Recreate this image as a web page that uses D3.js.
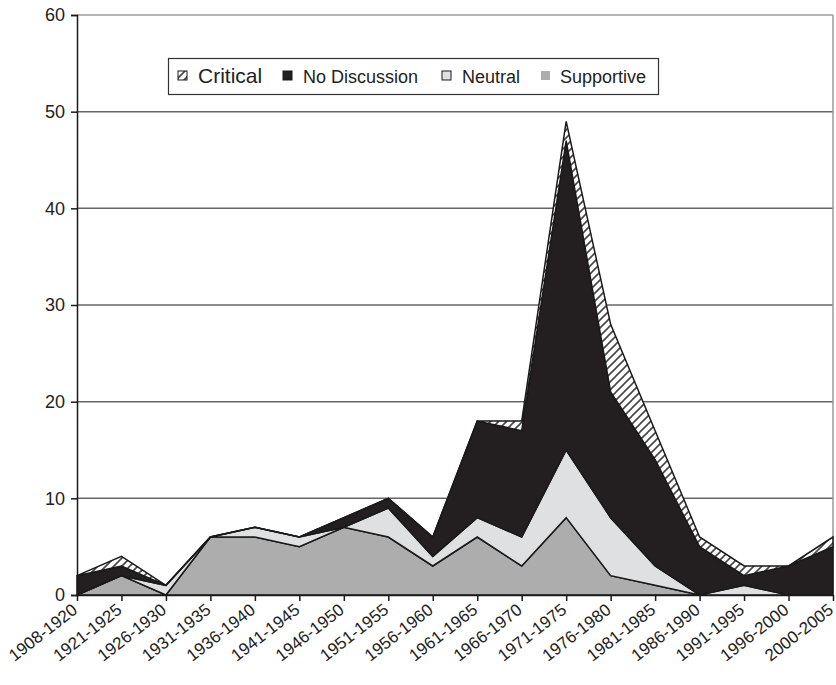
<!DOCTYPE html>
<html>
<head>
<meta charset="utf-8">
<script src="https://cdn.jsdelivr.net/npm/d3@7"></script>
<style>
  html, body { margin: 0; padding: 0; background: #fff; }
  svg { display: block; font-family: "Liberation Sans", Arial, sans-serif; }
</style>
</head>
<body>
<svg id="chart" width="836" height="685"></svg>
<script>
// Periods on the category axis
const periods = ["1908-1920", "1921-1925", "1926-1930", "1931-1935", "1936-1940",
  "1941-1945", "1946-1950", "1951-1955", "1956-1960", "1961-1965", "1966-1970",
  "1971-1975", "1976-1980", "1981-1985", "1986-1990", "1991-1995", "1996-2000",
  "2000-2005"];

// Counts per period for each stance
const supportive   = [0, 2, 0, 6, 6, 5, 7, 6, 3, 6, 3, 8, 2, 1, 0, 0, 0, 0];
const neutral      = [0, 0, 1, 0, 1, 1, 0, 3, 1, 2, 3, 7, 6, 2, 0, 1, 0, 0];
const noDiscussion = [2, 1, 0, 0, 0, 0, 1, 1, 2, 10, 11, 32, 13, 11, 5, 1, 3, 5];
const critical     = [0, 1, 0, 0, 0, 0, 0, 0, 0, 0, 1, 2, 7, 3, 1, 1, 0, 1];

const yTicks = [0, 10, 20, 30, 40, 50, 60];

const seriesKeys = ["Supportive", "Neutral", "No Discussion", "Critical"];

const rows = periods.map((p, i) => ({
  period: p,
  "Supportive": supportive[i],
  "Neutral": neutral[i],
  "No Discussion": noDiscussion[i],
  "Critical": critical[i]
}));

const svg = d3.select("#chart");
const plotLeft = 77, plotRight = 833, plotTop = 15, plotBottom = 595;

const x = d3.scalePoint().domain(periods).range([plotLeft, plotRight]);
const y = d3.scaleLinear().domain([0, 60]).range([plotBottom, plotTop]);

// Diagonal hatch for the "Critical" layer
const defs = svg.append("defs");
const hatch = defs.append("pattern")
  .attr("id", "hatch")
  .attr("patternUnits", "userSpaceOnUse")
  .attr("width", 8).attr("height", 8);
hatch.append("rect").attr("width", 8).attr("height", 8).attr("fill", "#fff");
hatch.append("path")
  .attr("d", "M0,8 L8,0 M-2,2 L2,-2 M6,10 L10,6")
  .attr("stroke", "#444").attr("stroke-width", 1.6);

const fills = {
  "Supportive": "#adadad",
  "Neutral": "#dfe0e2",
  "No Discussion": "#231f20",
  "Critical": "url(#hatch)"
};

// Horizontal gridlines
svg.append("g").selectAll("line")
  .data(yTicks.filter(t => t > 0))
  .join("line")
  .attr("x1", plotLeft).attr("x2", plotRight)
  .attr("y1", d => y(d)).attr("y2", d => y(d))
  .attr("stroke", d => d === 60 ? "#9a9a9a" : "#666")
  .attr("stroke-width", 1.5);

// Plot-area right border
svg.append("line")
  .attr("x1", plotRight).attr("x2", plotRight)
  .attr("y1", plotTop).attr("y2", plotBottom)
  .attr("stroke", "#9a9a9a").attr("stroke-width", 1.5);

// Stacked areas
const stack = d3.stack().keys(seriesKeys);
const layers = stack(rows);
const area = d3.area()
  .x(d => x(d.data.period))
  .y0(d => y(d[0]))
  .y1(d => y(d[1]));

svg.append("g").selectAll("path")
  .data(layers)
  .join("path")
  .attr("d", area)
  .attr("fill", d => fills[d.key])
  .attr("stroke", "#1a1a1a")
  .attr("stroke-width", 1.5)
  .attr("stroke-linejoin", "miter");

// Y axis
const yAxis = d3.axisLeft(y).tickValues(yTicks).tickSize(6).tickPadding(6);
const gy = svg.append("g").attr("transform", `translate(${plotLeft},0)`).call(yAxis);
gy.select(".domain").attr("stroke", "#1a1a1a").attr("stroke-width", 1.5);
gy.selectAll(".tick line").attr("stroke", "#1a1a1a").attr("stroke-width", 1.5);
gy.selectAll(".tick text")
  .attr("font-size", 18)
  .attr("fill", "#222")
  .attr("font-family", "Liberation Sans, Arial, sans-serif");

// X axis with rotated period labels
const xAxis = d3.axisBottom(x).tickSize(6).tickSizeOuter(0).tickPadding(4);
const gx = svg.append("g").attr("transform", `translate(0,${plotBottom})`).call(xAxis);
gx.select(".domain").attr("stroke", "#1a1a1a").attr("stroke-width", 1.5);
gx.selectAll(".tick line").attr("stroke", "#1a1a1a").attr("stroke-width", 1.5);
gx.selectAll(".tick text")
  .attr("font-size", 17)
  .attr("fill", "#222")
  .attr("font-family", "Liberation Sans, Arial, sans-serif")
  .attr("text-anchor", "end")
  .attr("dy", 0)
  .attr("x", 0).attr("y", 0)
  .attr("transform", "translate(1,17) rotate(-38)");

// Legend
const legend = svg.append("g");
legend.append("rect")
  .attr("x", 168.5).attr("y", 58.5)
  .attr("width", 490).attr("height", 36)
  .attr("fill", "#fff")
  .attr("stroke", "#333").attr("stroke-width", 1.2);

const legendItems = [
  { key: "Critical", sx: 178, tx: 198, size: 21 },
  { key: "No Discussion", sx: 283, tx: 303, size: 18 },
  { key: "Neutral", sx: 442, tx: 462, size: 18 },
  { key: "Supportive", sx: 541, tx: 560, size: 18 }
];
const li = legend.selectAll("g.item")
  .data(legendItems)
  .join("g").attr("class", "item");
li.append("rect")
  .attr("x", d => d.sx).attr("y", 71)
  .attr("width", 9).attr("height", 9)
  .attr("fill", d => fills[d.key])
  .attr("stroke", d => d.key === "Supportive" ? "none" : "#1a1a1a")
  .attr("stroke-width", 1);
li.append("text")
  .attr("x", d => d.tx).attr("y", 83)
  .attr("font-size", d => d.size)
  .attr("fill", "#222")
  .text(d => d.key);
</script>
</body>
</html>
